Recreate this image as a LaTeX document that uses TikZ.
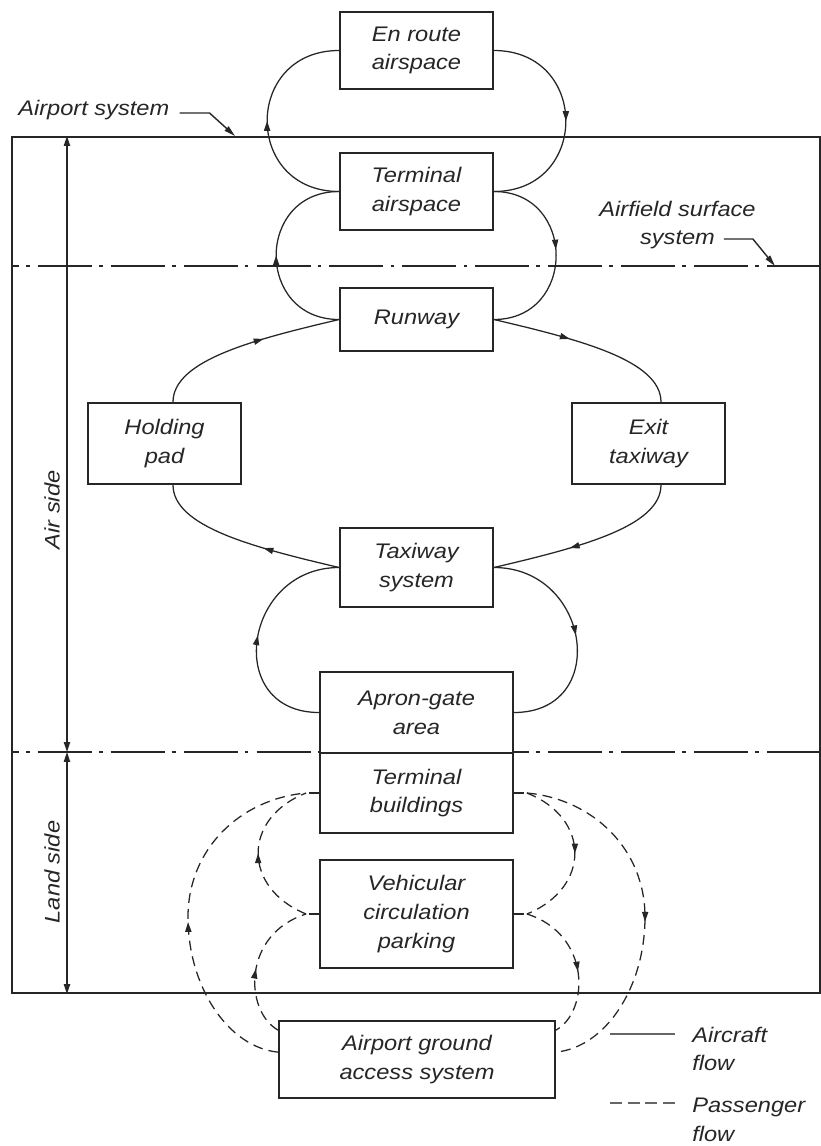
\documentclass[tikz,border=0pt]{standalone}
\usepackage{fontspec}
\setmainfont{Liberation Sans}[FakeStretch=1.12]
\usetikzlibrary{arrows.meta,calc,decorations.markings}
\definecolor{ink}{gray}{0.15}

\begin{document}
\begin{tikzpicture}[
  x=0.025cm, y=-0.025cm,
  txt/.style={font=\fontsize{15}{20.5}\selectfont\itshape, text=ink, align=center},
  box/.style={txt, draw=ink, line width=1.2pt, fill=white, inner sep=0pt,
              minimum width=3.825cm},
  lbl/.style={txt, inner sep=0pt},
  flow/.style={draw=ink, line width=0.9pt},
  pax/.style={draw=ink, line width=0.9pt, dash pattern=on 7pt off 4.3pt},
  arr/.style={postaction={decorate, decoration={markings,
      mark=at position #1 with {\arrow{Triangle[length=7pt,width=4.4pt]}}}}},
  zone/.style={draw=ink, line width=1.4pt,
      dash pattern=on 38.4pt off 5pt on 2.8pt off 5.7pt, dash phase=33pt},
  dim/.style={draw=ink, line width=1pt,
      {Triangle[length=7pt,width=4.4pt]}-{Triangle[length=7pt,width=4.4pt]}},
  leader/.style={draw=ink, line width=1pt, -{Triangle[length=8pt,width=4pt]}},
]
\useasboundingbox (0,0) rectangle (821,1146);

% airport system boundary
\node[draw=ink, line width=1.3pt, minimum width=20.2cm, minimum height=21.4cm,
      inner sep=0pt] (sys) at (416,565) {};

% zone separators (air side / airfield surface / land side)
\coordinate (zA1) at ($(sys.north west)+(0,130)$);
\coordinate (zA2) at ($(sys.north east)+(0,130)$);
\coordinate (zB1) at ($(sys.north west)+(0,616)$);
\coordinate (zB2) at ($(sys.north east)+(0,616)$);
\draw[zone] (zA1) -- (zA2);
\draw[zone] (zB1) -- (zB2);

% boxes
\node[box, minimum height=1.925cm] (enroute) at (416.5,50.5) {En route\\airspace};
\node[box, minimum height=1.925cm] (termair) at (416.5,191.5) {Terminal\\airspace};
\node[box, minimum height=1.575cm] (runway)  at (416.5,319.5) {Runway};
\node[box, minimum height=2.025cm] (hold)    at (164.5,443.5) {Holding\\pad};
\node[box, minimum height=2.025cm] (exit)    at (648.5,443.5) {Exit\\taxiway};
\node[box, minimum height=1.975cm] (taxiway) at (416.5,567.5) {Taxiway\\system};
\node[box, minimum width=4.825cm, minimum height=2.025cm] (apron)   at (416.5,712.5) {Apron-gate\\area};
\node[box, minimum width=4.825cm, minimum height=2.0cm]   (termbld) at (416.5,793)   {Terminal\\buildings};
\node[box, minimum width=4.825cm, minimum height=2.7cm]   (vehic)   at (416.5,914)   {Vehicular\\circulation\\parking};
\node[box, minimum width=6.9cm,   minimum height=1.925cm] (ground)  at (417,1059.5)  {Airport ground\\access system};

% aircraft flow: airspace
\draw[flow, arr=0.5]  (termair.west) .. controls +(-96,0) and +(-96,0) .. (enroute.west);
\draw[flow, arr=0.5]  (enroute.east) .. controls +(96,0) and +(96,0) .. (termair.east);
\draw[flow, arr=0.5]  (runway.west) .. controls +(-84,0) and +(-84,0) .. (termair.west);
\draw[flow, arr=0.47] (termair.east) .. controls +(83,0) and +(83,0) .. (runway.east);

% aircraft flow: airfield
\coordinate (hT) at ($(hold.north)+(8.5,0)$);
\coordinate (hB) at ($(hold.south)+(8.5,0)$);
\coordinate (eT) at ($(exit.north)+(12.5,0)$);
\coordinate (eB) at ($(exit.south)+(12.5,0)$);
\draw[flow, arr=0.6] (hT) .. controls +(0,-42) and +(-85,20) .. (runway.west);
\draw[flow, arr=0.4] (runway.east) .. controls +(85,20) and +(0,-42) .. (eT);
\draw[flow, arr=0.6] (eB) .. controls +(0,42) and +(85,-20) .. (taxiway.east);
\draw[flow, arr=0.4] (taxiway.west) .. controls +(-85,-20) and +(0,42) .. (hB);
\draw[flow, arr=0.5] (apron.west) .. controls +(-96,0) and +(-96,0) .. (taxiway.west);
\draw[flow, arr=0.5] (taxiway.east) .. controls +(97,0) and +(97,0) .. (apron.east);

% passenger flow
\coordinate (tbL) at ($(termbld.west)+(-13,0)$);
\coordinate (tbR) at ($(termbld.east)+(13,0)$);
\coordinate (vcL) at ($(vehic.west)+(-13,0)$);
\coordinate (vcR) at ($(vehic.east)+(13,0)$);
\coordinate (gLi) at ($(ground.north west)+(0,10)$);
\coordinate (gLo) at ($(ground.north west)+(0,32)$);
\coordinate (gRi) at ($(ground.north east)+(0,10)$);
\coordinate (gRo) at ($(ground.north east)+(0,32)$);
\coordinate (oL) at (188,917);
\coordinate (oR) at (645,917);
\draw[pax] (termbld.west) -- (tbL);
\draw[pax] (termbld.east) -- (tbR);
\draw[pax] (vehic.west) -- (vcL);
\draw[pax] (vehic.east) -- (vcR);
\draw[pax, arr=0.47] (gLo) .. controls +(-50,-5) and +(0,70) .. (oL)
                           .. controls +(0,-68) and +(-66,6) .. (tbL);
\draw[pax, arr=0.53] (tbR) .. controls +(66,6) and +(0,-68) .. (oR)
                           .. controls +(0,70) and +(50,-5) .. (gRo);
\draw[pax, arr=0.5]  (vcL) .. controls +(-64,-26) and +(-64,25) .. (tbL);
\draw[pax, arr=0.5]  (tbR) .. controls +(64,25) and +(64,-26) .. (vcR);
\draw[pax, arr=0.47] (gLi) .. controls +(-34,-19) and +(-64,20) .. (vcL);
\draw[pax, arr=0.55] (vcR) .. controls +(64,20) and +(34,-19) .. (gRi);

% side dimensions
\coordinate (dTop) at ($(sys.north west)+(56,0)$);
\coordinate (dMid) at ($(zB1)+(56,0)$);
\coordinate (dBot) at ($(sys.south west)+(56,0)$);
\draw[dim] (dMid) -- (dTop);
\draw[dim] (dMid) -- (dBot);
\node[lbl, rotate=90] (airlbl)  at (52,510) {Air side};
\node[lbl, rotate=90] (landlbl) at (52,872) {Land side};

% callouts
\node[lbl, anchor=west] (syslbl) at (18,110) {Airport system};
\coordinate (sysTip) at (235,136);
\draw[leader] ($(syslbl.east)+(10,3)$) -- ++(30,0) -- (sysTip);

\node[lbl] (aflbl) at (677.5,225) {Airfield surface\\system};
\coordinate (afTip) at (775,266);
\draw[leader] ($(aflbl.east)+(-32,14)$) -- ++(29,0) -- (afTip);

% key
\coordinate (k1a) at (610,1034);
\coordinate (k1b) at (675,1034);
\coordinate (k2a) at (610,1103);
\coordinate (k2b) at (675,1103);
\draw[flow, line width=0.8pt, draw=black!60] (k1a) -- (k1b);
\draw[pax, line width=0.8pt, draw=black!60, dash pattern=on 8.5pt off 4pt] (k2a) -- (k2b);
\node[lbl, align=left, anchor=west] (k1) at (692,1049) {Aircraft\\flow};
\node[lbl, align=left, anchor=west] (k2) at (692,1120) {Passenger\\flow};
\end{tikzpicture}
\end{document}
